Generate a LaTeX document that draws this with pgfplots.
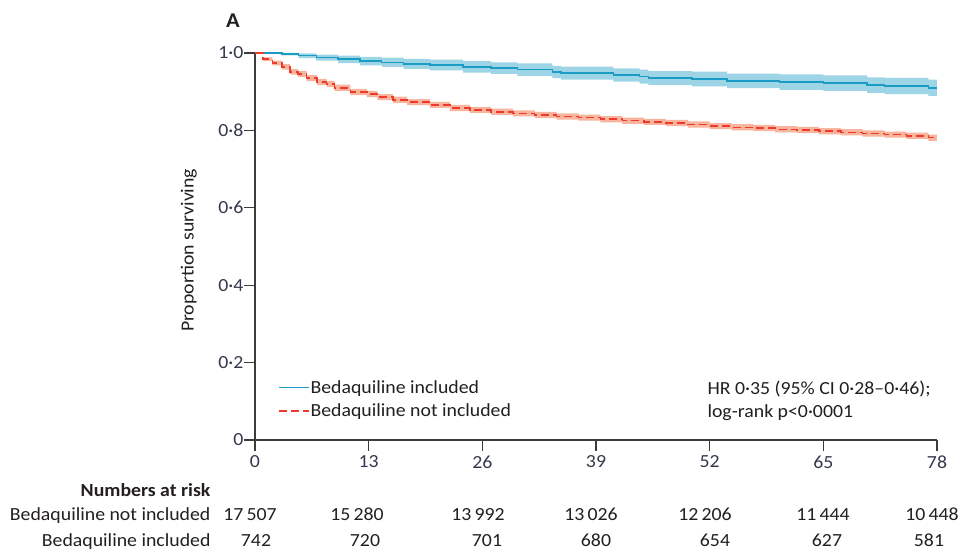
\documentclass[border=0pt]{standalone}
\usepackage{fontspec}
\setmainfont[FakeStretch=1.07]{Carlito}
\usepackage{pgfplots}
\pgfplotsset{compat=1.18}
\usepackage{pgfplotstable}
\usepgfplotslibrary{fillbetween}
\definecolor{bq}{HTML}{1A9CC4}
\definecolor{bqband}{HTML}{9DD4E6}
\definecolor{nb}{HTML}{EE3A2C}
\definecolor{nbband}{HTML}{F8B49C}
\definecolor{txt}{HTML}{231F20}
\definecolor{tkc}{HTML}{33384D}
\definecolor{axc}{HTML}{3C3C3C}
\newcommand\lbl{\fontsize{18.5bp}{22bp}\selectfont}

% Bedaquiline included: week, survival, lower CI, upper CI
\pgfplotstableread{
t    s     lo    hi
0    1.000 1.000 1.000
3.1  0.997 0.994 1.000
5    0.993 0.987 0.999
7    0.988 0.980 0.996
9.5  0.984 0.974 0.993
12   0.979 0.968 0.990
14.5 0.976 0.964 0.988
17   0.972 0.959 0.985
20   0.969 0.955 0.983
23.8 0.964 0.949 0.979
27   0.961 0.946 0.976
30   0.957 0.941 0.973
34   0.951 0.935 0.967
35   0.948 0.931 0.965
41   0.943 0.926 0.960
44   0.939 0.921 0.957
45   0.935 0.917 0.953
50   0.933 0.914 0.952
54   0.928 0.909 0.947
60   0.925 0.905 0.945
65   0.922 0.902 0.942
70   0.917 0.897 0.937
72   0.915 0.894 0.936
77   0.910 0.889 0.931
78   0.910 0.889 0.931
}\bdqin

% Bedaquiline not included
\pgfplotstableread{
t    s     lo    hi
0    1.000 1.000 1.000
0.9  0.984 0.979 0.989
2.0  0.974 0.968 0.980
3.1  0.964 0.957 0.971
4.0  0.951 0.944 0.958
4.9  0.946 0.938 0.954
5.9  0.935 0.927 0.943
7.1  0.925 0.917 0.933
8.2  0.920 0.912 0.928
9.1  0.910 0.902 0.918
10.9 0.899 0.891 0.907
12.8 0.894 0.886 0.902
14.0 0.886 0.878 0.894
15.8 0.879 0.871 0.887
17.4 0.873 0.865 0.881
20.0 0.866 0.858 0.874
22.3 0.858 0.850 0.866
24.6 0.853 0.845 0.861
27.0 0.848 0.840 0.856
29.5 0.844 0.836 0.852
32.0 0.840 0.832 0.848
34.5 0.836 0.828 0.844
37.0 0.833 0.825 0.841
39.5 0.829 0.821 0.837
42.0 0.825 0.817 0.833
44.5 0.822 0.814 0.830
47.0 0.819 0.811 0.827
49.5 0.815 0.807 0.823
52.0 0.811 0.803 0.819
54.5 0.808 0.800 0.816
57.0 0.806 0.798 0.814
59.5 0.803 0.795 0.811
62.0 0.801 0.793 0.809
64.5 0.798 0.790 0.806
67.0 0.795 0.787 0.803
69.5 0.792 0.784 0.800
72.0 0.789 0.781 0.797
74.5 0.786 0.778 0.794
77.0 0.781 0.773 0.789
78.0 0.781 0.773 0.789
}\bdqout

\begin{document}
\begin{tikzpicture}
\begin{axis}[
  name=ax, at={(0,0)}, anchor=south west,
  scale only axis, width=682bp, height=387bp,
  xmin=0, xmax=78, ymin=0, ymax=1,
  axis x line=bottom, axis y line=left,
  axis line style={axc, line width=1.3bp, -},
  xtick={0,13,26,39,52,65,78},
  xticklabels={0,13,26,39,52,65,78},
  ytick={0,0.2,0.4,0.6,0.8,1},
  yticklabels={0,0·2,0·4,0·6,0·8,1·0},
  tick style={axc, line width=1.3bp},
  tick align=outside, major tick length=11bp,
  ticklabel style={font=\lbl, text=tkc},
  xticklabel style={yshift=-1bp},
  yticklabel style={xshift=3bp},
  ylabel={Proportion surviving},
  ylabel style={font=\lbl, text=txt, at={(axis description cs:-0.097,0.49)}, anchor=center},
  clip=false,
  legend style={draw=none, fill=none, at={(axis description cs:0.0337,0.157)}, anchor=north west,
    font=\lbl, text=txt, inner sep=0pt, row sep=7bp,
    nodes={inner sep=1bp, anchor=west}},
  legend cell align=left,
  legend image code/.code={\draw[#1] (0bp,0bp) -- (30bp,0bp);},
]
% CI bands
\addplot[const plot, draw=none, name path=bu, forget plot] table[x=t, y=hi] {\bdqin};
\addplot[const plot, draw=none, name path=bl, forget plot] table[x=t, y=lo] {\bdqin};
\addplot[bqband, forget plot] fill between[of=bu and bl];
\addplot[const plot, draw=none, name path=nu, forget plot] table[x=t, y=hi] {\bdqout};
\addplot[const plot, draw=none, name path=nl, forget plot] table[x=t, y=lo] {\bdqout};
\addplot[nbband, forget plot] fill between[of=nu and nl];
% survival curves
\addplot[const plot, bq, line width=1.4bp] table[x=t, y=s] {\bdqin};
\addlegendentry{Bedaquiline included}
\addplot[const plot, nb, line width=1.4bp, dash pattern=on 8bp off 4bp] table[x=t, y=s] {\bdqout};
\addlegendentry{Bedaquiline not included}
\end{axis}
% panel letter
\node[font=\fontsize{21bp}{24bp}\selectfont\bfseries, text=txt] at (-22bp,419bp) {A};
% statistics
\node[anchor=west, font=\lbl, text=txt] at (449bp,51bp) {HR 0·35 (95\% CI 0·28–0·46);};
\node[anchor=west, font=\lbl, text=txt] at (449bp,27bp) {log-rank p<0·0001};
% numbers at risk
\node[anchor=base east, font=\lbl\bfseries, text=txt] at (-41bp,-56bp) {Numbers at risk};
\node[anchor=base east, font=\lbl, text=txt] at (-41bp,-80bp) {Bedaquiline not included};
\node[anchor=base east, font=\lbl, text=txt] at (-41bp,-106bp) {Bedaquiline included};
\foreach \xx/\nn in {-5/17\,507, 102/15\,280, 223/13\,992, 336/13\,026, 450/12\,206, 568/11\,444, 677/10\,448}
  \node[anchor=base, font=\lbl, text=txt] at (\xx bp,-80bp) {\nn};
\foreach \xx/\nn in {1/742, 110/720, 232/701, 341/680, 460/654, 572/627, 674/581}
  \node[anchor=base, font=\lbl, text=txt] at (\xx bp,-106bp) {\nn};
\pgfresetboundingbox
\path (-255bp,-112bp) rectangle (714bp,440bp);
\end{tikzpicture}
\end{document}
